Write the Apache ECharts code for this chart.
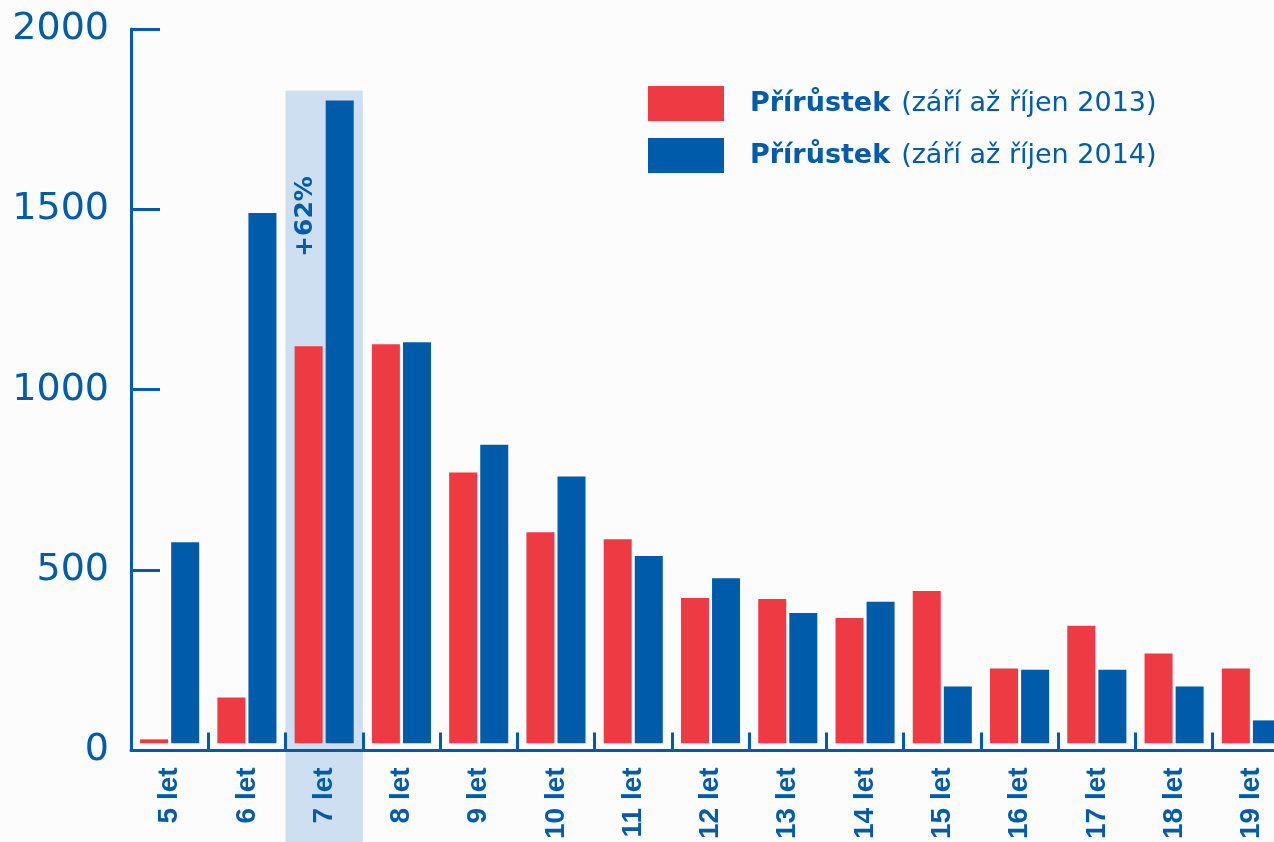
<!DOCTYPE html>
<html>
<head>
<meta charset="utf-8">
<script src="https://cdn.jsdelivr.net/npm/echarts@6/dist/echarts.min.js"></script>
<style>
html,body{margin:0;padding:0;background:#fcfcfc;overflow:hidden;width:1274px;height:842px;}
#c{width:1290px;height:842px;}
</style>
</head>
<body>
<div id="c"></div>
<script>
const categories = ['5 let','6 let','7 let','8 let','9 let','10 let','11 let','12 let','13 let','14 let','15 let','16 let','17 let','18 let','19 let'];
const values2013 = [11, 128, 1112, 1117, 758, 591, 571, 407, 404, 351, 426, 209, 329, 251, 209];
const values2014 = [563, 1485, 1800, 1123, 836, 747, 524, 462, 365, 396, 159, 206, 206, 159, 64];
const seriesNames = ['Přírůstek (září až říjen 2013)', 'Přírůstek (září až říjen 2014)'];
const yTicks = [0, 500, 1000, 1500, 2000];
const highlightCategory = '7 let';

const BLUE = '#005bab';
const RED = '#ee3a43';

const chart = echarts.init(document.getElementById('c'), null, {renderer: 'canvas', width: 1290, height: 842});

const option = {
  backgroundColor: '#fcfcfc',
  animation: false,
  grid: {left: 131, right: 0, top: 29, bottom: 88, containLabel: false},
  legend: {
    orient: 'vertical',
    left: 643,
    top: 81,
    itemWidth: 76,
    itemHeight: 35,
    itemGap: 17,
    icon: 'rect',
    data: seriesNames,
    formatter: function (name) {
      const i = name.indexOf(' ');
      return '{b|' + name.slice(0, i) + '}{n|' + name.slice(i + 1) + '}';
    },
    textStyle: {
      padding: [0, 0, 0, 21],
      rich: {
        b: {fontFamily: 'DejaVu Sans', fontWeight: 'bold', fontSize: 27, color: BLUE},
        n: {fontFamily: 'DejaVu Sans', fontWeight: 'normal', fontSize: 27, color: BLUE, padding: [0, 0, 0, 11]}
      }
    }
  },
  xAxis: {
    type: 'category',
    data: categories,
    boundaryGap: true,
    axisLine: {onZero: false, lineStyle: {color: BLUE, width: 3}},
    axisTick: {show: true, inside: true, length: 18, lineStyle: {color: BLUE, width: 3}},
    axisLabel: {
      rotate: 90,
      margin: 17,
      color: BLUE,
      fontFamily: 'Liberation Sans',
      fontWeight: 'bold',
      fontSize: 28,
      interval: 0
    },
    splitLine: {show: false}
  },
  yAxis: [
    {
      type: 'value',
      min: yTicks[0],
      max: yTicks[yTicks.length - 1],
      interval: yTicks[1] - yTicks[0],
      axisLine: {show: true, lineStyle: {color: BLUE, width: 3}},
      axisTick: {show: true, inside: true, length: 29, lineStyle: {color: BLUE, width: 3}},
      axisLabel: {color: BLUE, fontFamily: 'DejaVu Sans', fontSize: 38, margin: 22, formatter: function (v) { return String(v); }},
      splitLine: {show: false}
    },
    {
      type: 'value',
      min: -20,
      max: 2000,
      show: false,
      splitLine: {show: false}
    }
  ],
  series: [
    {
      name: seriesNames[0],
      type: 'bar',
      yAxisIndex: 1,
      data: values2013,
      barWidth: 28,
      barGap: '11%',
      itemStyle: {color: RED},
      z: 3
    },
    {
      name: seriesNames[1],
      type: 'bar',
      yAxisIndex: 1,
      data: values2014,
      barWidth: 28,
      barGap: '11%',
      itemStyle: {color: BLUE},
      z: 3
    }
  ]
};

chart.setOption(option);

function addAnnotations() {
  const idx = categories.indexOf(highlightCategory);
  const cx = chart.convertToPixel({xAxisIndex: 0}, highlightCategory);
  const cx2 = chart.convertToPixel({xAxisIndex: 0}, categories[idx + 1]);
  const bw = cx2 - cx;
  const topY = chart.convertToPixel({yAxisIndex: 1}, values2014[idx]) - 10;
  const pct = Math.round((values2014[idx] / values2013[idx] - 1) * 100);
  const textY = chart.convertToPixel({yAxisIndex: 0}, 1480);
  chart.setOption({
    graphic: {
      elements: [
        {
          type: 'rect',
          z: -10,
          silent: true,
          shape: {x: cx - bw / 2, y: topY, width: bw, height: 842 - topY},
          style: {fill: '#cddff0'}
        },
        {
          type: 'text',
          z: 10,
          silent: true,
          x: cx - 19,
          y: textY,
          rotation: Math.PI / 2,
          style: {
            text: '+' + pct + '%',
            fill: BLUE,
            font: 'bold 25px "DejaVu Sans"',
            align: 'center',
            verticalAlign: 'middle'
          }
        }
      ]
    }
  });
}
addAnnotations();
</script>
</body>
</html>
